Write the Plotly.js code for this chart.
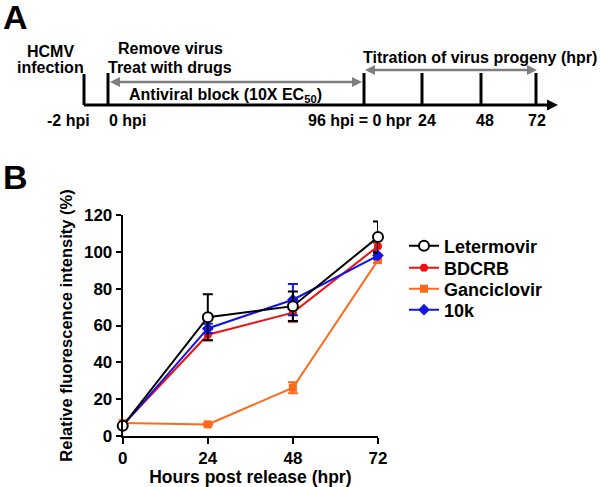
<!DOCTYPE html>
<html>
<head>
<meta charset="utf-8">
<script src="https://cdn.plot.ly/plotly-3.0.1.min.js"></script>
<style>html,body{margin:0;padding:0;background:#fff}#chart{width:600px;height:487px}</style>
</head>
<body>
<div id="chart"></div>
<script>
// ---- Data (panel B) ----
const hours = [0, 24, 48, 72];
const letermovir = [5.5, 64.5, 70.5, 108];
const letermovirErr = [0.5, 12.5, 8, 8.5];
const bdcrb = [6, 55, 67, 103];
const bdcrbErr = [0.5, 3, 5, 2];
const ganciclovir = [7, 6.3, 26.2, 95.5];
const ganciclovirErr = [0.5, 0.5, 3, 1.5];
const k10 = [5.5, 58.4, 74, 98];
const k10Err = [0.5, 2.5, 8.5, 2];
const xTicks = [0, 24, 48, 72];
const yTicks = [0, 20, 40, 60, 80, 100, 120];

// ---- Schematic (panel A) labels ----
const timelineLabels = ["-2 hpi", "0 hpi", "96 hpi = 0 hpr", "24", "48", "72"];

const W = 600, H = 487;
const px = x => x / W;
const py = y => 1 - y / H;
const FONT = "Liberation Sans, Arial, sans-serif";

function trace(name, y, err, color, symbol, size, legendId, open) {
  return {
    type: 'scatter', mode: 'lines+markers', name: name, x: hours, y: y,
    line: {color: color, width: 2},
    marker: {color: open ? '#ffffff' : color, symbol: symbol, size: size,
             line: {color: color, width: open ? 2 : 0}},
    error_y: {type: 'data', array: err, visible: true, color: color, thickness: 2, width: 5},
    cliponaxis: false, legend: legendId
  };
}

const data = [
  trace('Ganciclovir', ganciclovir, ganciclovirErr, '#FF6A1A', 'square', 8, 'legend3'),
  trace('BDCRB', bdcrb, bdcrbErr, '#F01010', 'circle', 8, 'legend2'),
  trace('10k', k10, k10Err, '#1414E6', 'diamond', 9, 'legend4'),
  trace('Letermovir', letermovir, letermovirErr, '#000000', 'circle', 10, 'legend', true)
];

// schematic shapes
const shapes = [];
const black = '#000000', gray = '#7F7F7F';
function line(x0, y0, x1, y1, color, w) {
  shapes.push({type: 'line', xref: 'paper', yref: 'paper', x0: px(x0), y0: py(y0), x1: px(x1), y1: py(y1),
               line: {color: color, width: w}});
}
function tri(pts, color) {
  let d = 'M' + pts.map(p => px(p[0]) + ',' + py(p[1])).join(' L') + ' Z';
  shapes.push({type: 'path', xref: 'paper', yref: 'paper', path: d, fillcolor: color, line: {color: color, width: 0}});
}
// baseline
line(84, 105, 550, 105, black, 3);
tri([[547, 99.5], [558, 105], [547, 110.5]], black);
// ticks
const tickX = [84, 108, 364, 422, 481, 536];
tickX.forEach((x, i) => line(x, i === 0 ? 74 : 73, x, 105, black, 3));
// antiviral arrow
line(118, 82, 354, 82, gray, 2.5);
tri([[120, 77], [110, 82], [120, 87]], gray);
tri([[352, 77], [362, 82], [352, 87]], gray);
// titration arrow
line(373, 70, 529, 70, gray, 2.5);
tri([[375, 65], [365, 70], [375, 75]], gray);
tri([[527, 65], [537, 70], [527, 75]], gray);

const af = {family: FONT, size: 16, color: '#000', weight: 'bold'};
function ann(text, x, y, anchor, font) {
  return {text: text, xref: 'paper', yref: 'paper', x: px(x), y: py(y), xanchor: anchor || 'center',
          yanchor: 'middle', showarrow: false, font: font || af, borderpad: 0};
}
const labelX = [68, 108, 307, 427, 485, 537];
const bigF = {family: FONT, size: 34, color: '#000', weight: 'bold'};
const annotations = [
  ann('A', 2, 17, 'left', bigF),
  ann('B', 2, 177, 'left', bigF),
  ann('HCMV', 50, 51),
  ann('infection', 50, 68),
  ann('Remove virus', 170, 49),
  ann('Treat with drugs', 170, 68),
  ann('Antiviral block (10X EC<sub>50</sub>)', 225, 95),
  ann('Titration of virus progeny (hpr)', 480, 57),
  ann(timelineLabels[0], labelX[0], 120),
  ann(timelineLabels[1], labelX[1], 120, 'left'),
  ann(timelineLabels[2], labelX[2], 120, 'left'),
  ann(timelineLabels[3], labelX[3], 120),
  ann(timelineLabels[4], labelX[4], 120),
  ann(timelineLabels[5], labelX[5], 120)
];

const tf = {family: FONT, size: 17, color: '#000', weight: 'bold'};
const xtf = {family: FONT, size: 17.5, color: '#000', weight: 'bold'};
const ytf = {family: FONT, size: 16.5, color: '#000', weight: 'bold'};
const lf = {family: FONT, size: 18, color: '#000', weight: 'bold'};
function leg(yc) {
  return {x: px(404), y: py(yc), xanchor: 'left', yanchor: 'middle', font: lf,
          bgcolor: 'rgba(0,0,0,0)', borderwidth: 0, itemwidth: 30};
}
const layout = {
  width: W, height: H, margin: {l: 0, r: 0, t: 0, b: 0},
  paper_bgcolor: '#fff', plot_bgcolor: '#fff',
  showlegend: true,
  legend: leg(246), legend2: leg(268), legend3: leg(289), legend4: leg(310),
  xaxis: {domain: [px(122.7), px(378)], range: [0, 72], tickvals: xTicks, ticktext: xTicks.map(String),
          showgrid: false, zeroline: false, showline: true, linecolor: '#000', linewidth: 2,
          ticks: 'outside', ticklen: 6, tickwidth: 2, tickcolor: '#000', tickfont: tf,
          title: {text: 'Hours post release (hpr)', font: xtf, standoff: 8}, automargin: false},
  yaxis: {domain: [1 - 436 / H, 1 - 215 / H], range: [0, 120], tickvals: yTicks,
          showgrid: false, zeroline: false, showline: true, linecolor: '#000', linewidth: 2,
          ticks: 'outside', ticklen: 5, tickwidth: 2, tickcolor: '#000', tickfont: tf,
          title: {text: 'Relative fluorescence intensity (%)', font: ytf, standoff: 7}, automargin: false},
  shapes: shapes, annotations: annotations
};

Plotly.newPlot('chart', data, layout, {displayModeBar: false, staticPlot: true});
</script>
</body>
</html>
